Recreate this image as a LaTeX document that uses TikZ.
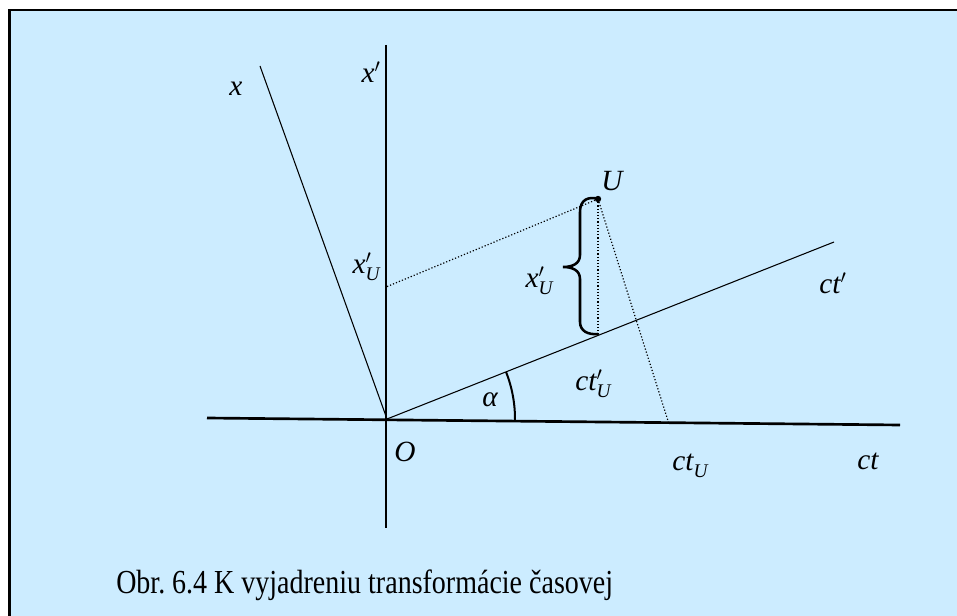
\documentclass[tikz,border=0pt]{standalone}
\usepackage{fontspec}
\setmainfont{Liberation Serif}
\definecolor{bgblue}{RGB}{204,236,255}
\newcommand\subU{\raisebox{-0.55ex}{\fontsize{14.5}{16}\selectfont\itshape U}}
\frenchspacing
\begin{document}
\begin{tikzpicture}[x=0.75pt,y=-0.75pt,
  lab/.style={inner sep=0pt,font=\fontsize{22}{25}\selectfont\itshape},
  captext/.style={inner sep=0pt,anchor=base west,font=\fontsize{21}{25}\selectfont},
  axisline/.style={line width=2pt},
  thinline/.style={line width=0.8pt},
  dotline/.style={line width=0.9pt,dash pattern=on 0.9pt off 1.5pt},
  bracestyle/.style={line width=1.9pt,line cap=round},
  arcstyle/.style={line width=1.5pt}]
\useasboundingbox (0,0) rectangle (957,616);
\fill[bgblue] (9.5,10) rectangle (957,616);
\draw[line width=2.2pt] (9.5,616) -- (9.5,10) -- (957,10);
% points
\coordinate (O) at (387,419);
\coordinate (ctL) at (207,418);
\coordinate (ctR) at (900,425);
\coordinate (xpT) at (386,45);
\coordinate (xpB) at (386,528);
\coordinate (xT) at (260,66);
\coordinate (ctpE) at (834,242);
\coordinate (A) at (386,287);
\coordinate (B) at (598,334);
\coordinate (C) at (669,424);
% axes
\draw[axisline] (ctL) -- (ctR);
\draw[axisline] (xpT) -- (xpB);
\draw[thinline] (xT) -- (O);
\draw[thinline] (O) -- (ctpE);
% point U
\node[circle,fill,inner sep=0pt,minimum size=4.8pt] (U) at (598,199) {};
% dotted projections
\draw[dotline] (U.center) -- (A);
\draw[dotline] (U.center) -- (B);
\draw[dotline] (U.center) -- (C);
% brace
\draw[bracestyle] (U.center) .. controls (588,196) and (580,200) .. (580,212) -- (580,255)
  .. controls (580,264) and (572,267) .. (563,267)
  .. controls (572,267) and (580,270) .. (580,279) -- (580,322)
  .. controls (580,331) and (588,335) .. (B);
% angle
\draw[arcstyle] (O) ++(0.6:128) arc[start angle=0.6,end angle=-21.6,radius=128];
% labels
\node[lab] (lx) at (236,89) {x};
\node[lab] (lxp) at (371,72) {x$'$};
\node[lab] (lU) at (612,181) {U};
\node[lab] (lxU1) at (366,267) {x\rlap{$'$}\subU};
\node[lab] (lxU2) at (539,281) {x\rlap{$'$}\subU};
\node[lab] (lctp) at (833,283) {ct$'$};
\node[lab] (lctpU) at (593,384) {ct\rlap{$'$}\subU};
\node[lab] (lal) at (490,400) {α};
\node[lab] (lO) at (405,452) {O};
\node[lab] (lctU) at (690,466) {ct\subU};
\node[lab] (lct) at (868,461) {ct};
\node[captext] (caption) at (116,593) {\scalebox{1}[1.2]{Obr. 6.4 K vyjadreniu transformácie časovej}};
\end{tikzpicture}
\end{document}
